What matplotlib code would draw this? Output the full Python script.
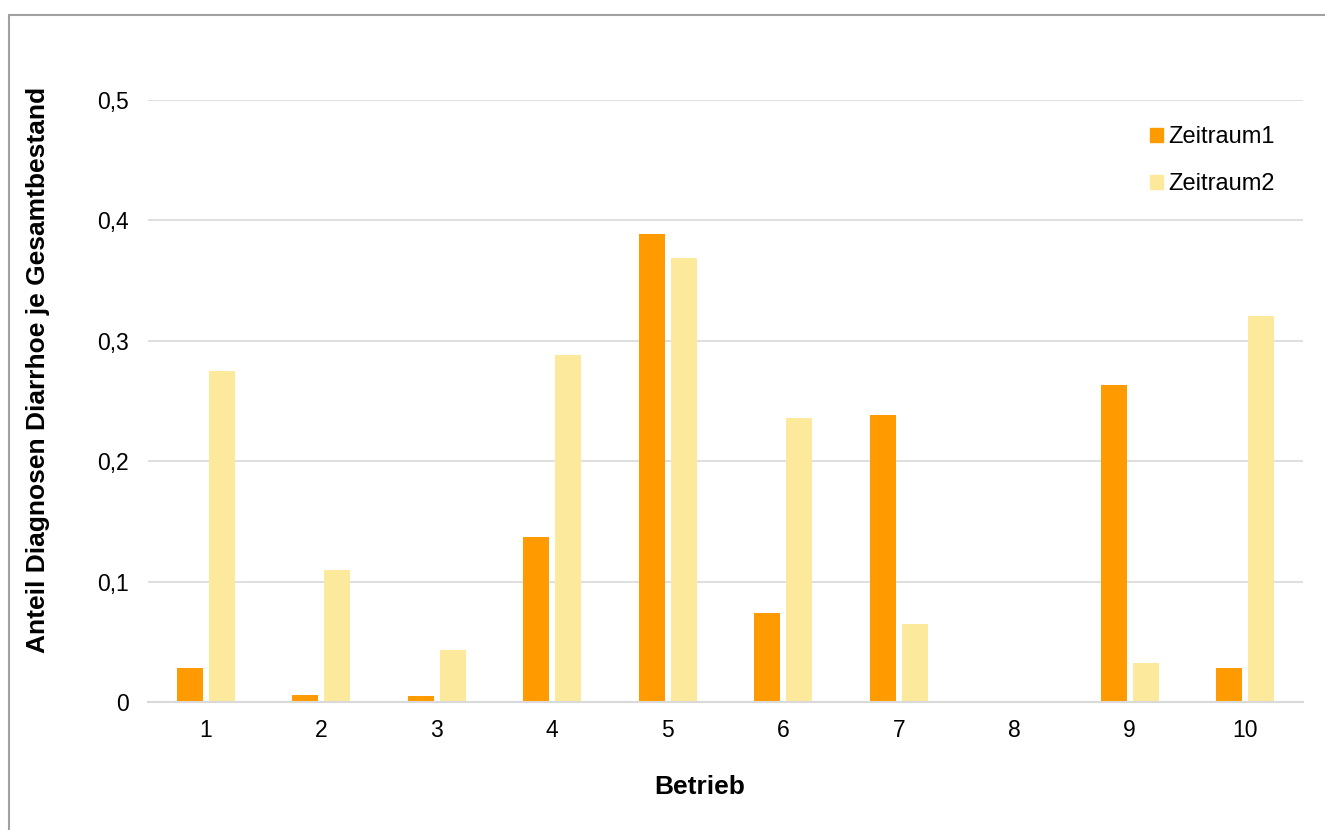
import matplotlib
matplotlib.use("Agg")
import matplotlib.pyplot as plt
from matplotlib.patches import Rectangle, Patch
import numpy as np

plt.rcParams['font.family'] = ['Liberation Sans', 'DejaVu Sans']

categories = ['1', '2', '3', '4', '5', '6', '7', '8', '9', '10']
zeitraum1 = [0.028, 0.006, 0.005, 0.137, 0.389, 0.074, 0.238, 0.0, 0.263, 0.028]
zeitraum2 = [0.275, 0.110, 0.043, 0.288, 0.369, 0.236, 0.065, 0.0, 0.032, 0.321]
yticks = [0, 0.1, 0.2, 0.3, 0.4, 0.5]
ytick_labels = ['0', '0,1', '0,2', '0,3', '0,4', '0,5']

c1 = '#FF9A00'
c2 = '#FCE99B'

W, H = 1325, 830
fig = plt.figure(figsize=(W / 100, H / 100), dpi=100)
ax = fig.add_axes([148 / W, 1 - 702 / H, (1303 - 148) / W, (702 - 100) / H])

x = np.arange(len(categories))
bw = 0.225
off = 0.139
ax.bar(x - off, zeitraum1, width=bw, color=c1, zorder=3)
ax.bar(x + off, zeitraum2, width=bw, color=c2, zorder=3)

ax.set_xlim(-0.5, len(categories) - 0.5)
ax.set_ylim(0, 0.5)
ax.set_yticks(yticks)
ax.set_yticklabels(ytick_labels)
ax.set_xticks(x)
ax.set_xticklabels(categories)
ax.yaxis.grid(True, color='#d9d9d9', linewidth=1.2, zorder=0)
ax.set_axisbelow(True)
for s in ['top', 'right', 'left']:
    ax.spines[s].set_visible(False)
ax.spines['bottom'].set_color('#d9d9d9')
ax.spines['bottom'].set_linewidth(1.5)
ax.spines['bottom'].set_zorder(4)
ax.tick_params(axis='both', length=0, labelsize=16.5, colors='#000000')
ax.tick_params(axis='y', pad=13.5)
ax.tick_params(axis='x', pad=12)

fig.text(700 / W, 1 - 787 / H, 'Betrieb', fontsize=19, fontweight='bold',
         ha='center', va='center')
fig.text(38 / W, 1 - 370 / H, 'Anteil Diagnosen Diarrhoe je Gesamtbestand',
         rotation=90, fontsize=19, fontweight='bold', ha='center', va='center')

handles = [Patch(color=c1, label='Zeitraum1'), Patch(color=c2, label='Zeitraum2')]
fig.legend(handles=handles, loc='upper left', bbox_to_anchor=(1150 / W, 1 - 126 / H),
           frameon=False, fontsize=17, handlelength=0.55, handleheight=0.55,
           handletextpad=0.22, labelspacing=1.08, borderaxespad=0, borderpad=0)

fig.patches.append(Rectangle((9 / W, -0.05), 1.2, 1 - 15 / H + 0.05,
                             transform=fig.transFigure, fill=False,
                             edgecolor='#a0a0a0', linewidth=1.5))

fig.savefig('out.png', dpi=100)
